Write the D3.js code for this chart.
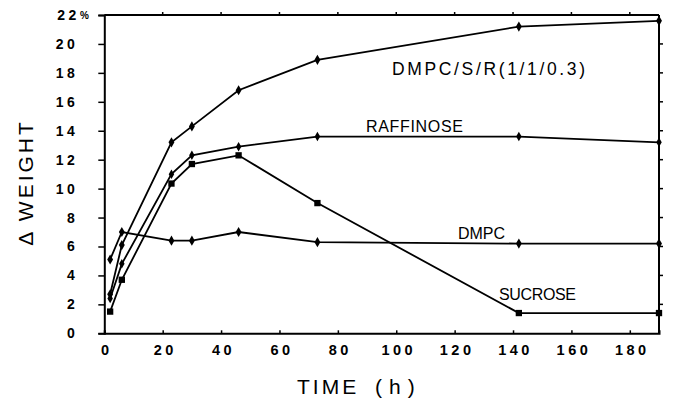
<!DOCTYPE html>
<html>
<head>
<meta charset="utf-8">
<script src="https://cdn.jsdelivr.net/npm/d3@7"></script>
<style>
  body { margin: 0; background: #fff; }
  text { font-family: "Liberation Sans", Arial, sans-serif; fill: #000; }
</style>
</head>
<body>
<script>
// hours after start
var hours = [2, 6, 23, 30, 46, 73, 142, 190];

// weight gain (%) per sample
var dmpcSR    = [2.7, 6.1, 13.2, 14.3, 16.8, 18.9, 21.2, 21.6];
var raffinose = [2.4, 4.8, 11.0, 12.3, 12.9, 13.6, 13.6, 13.2];
var dmpc      = [5.1, 7.0, 6.4, 6.4, 7.0, 6.3, 6.2, 6.2];
var sucrose   = [1.5, 3.7, 10.35, 11.7, 12.3, 9.0, 1.4, 1.4];

var seriesNames = ["DMPC/S/R(1/1/0.3)", "RAFFINOSE", "DMPC", "SUCROSE"];
var yTicks = [0, 2, 4, 6, 8, 10, 12, 14, 16, 18, 20, 22];
var xTicks = [0, 20, 40, 60, 80, 100, 120, 140, 160, 180];

var w = 674, h = 398;
var plotL = 104.3, plotR = 659, plotT = 15, plotB = 333.3;

var svg = d3.select("body").append("svg").attr("width", w).attr("height", h);

var x = d3.scaleLinear().domain([0, 190]).range([plotL, plotR]);
var y = d3.scaleLinear().domain([0, 22]).range([plotB, plotT]);

// frame lines
var frame = svg.append("g").attr("stroke", "#000").attr("stroke-width", 2).attr("fill", "none");
frame.append("line").attr("x1", plotL).attr("x2", plotR).attr("y1", plotT).attr("y2", plotT);
frame.append("line").attr("x1", plotR).attr("x2", plotR).attr("y1", plotT).attr("y2", plotB);

// small ticks on the top and right edges
frame.selectAll("line.tt").data(xTicks.slice(1)).enter().append("line")
  .attr("class", "tt")
  .attr("x1", function(d) { return x(d); }).attr("x2", function(d) { return x(d); })
  .attr("y1", plotT).attr("y2", plotT - 3).attr("stroke-width", 1.5);
frame.selectAll("line.rt").data(yTicks.slice(1, -1)).enter().append("line")
  .attr("class", "rt")
  .attr("x1", plotR).attr("x2", plotR + 4)
  .attr("y1", function(d) { return y(d); }).attr("y2", function(d) { return y(d); })
  .attr("stroke-width", 1.5);

// left axis
var yAxis = svg.append("g").attr("transform", "translate(" + plotL + ",0)")
  .call(d3.axisLeft(y).tickValues(yTicks).tickSize(6).tickPadding(20).tickFormat(d3.format("d")));
yAxis.select(".domain").attr("stroke-width", 2);
yAxis.selectAll(".tick line").attr("stroke-width", 1.5);
yAxis.selectAll(".tick text")
  .attr("font-size", 14).attr("font-weight", "bold").attr("letter-spacing", 3.5)
  .attr("font-family", "Liberation Sans, Arial, sans-serif");
yAxis.selectAll(".tick").filter(function(d) { return d === 22; }).select("text")
  .attr("text-anchor", "start").attr("x", -47)
  .append("tspan").attr("font-size", 10).attr("dy", -1).text("%");

// bottom axis
var xAxis = svg.append("g").attr("transform", "translate(0," + plotB + ")")
  .call(d3.axisBottom(x).tickValues(xTicks).tickSize(-3).tickPadding(11).tickFormat(d3.format("d")));
xAxis.select(".domain").attr("stroke-width", 2);
xAxis.selectAll(".tick line").attr("stroke-width", 1.5);
xAxis.selectAll(".tick text")
  .attr("font-size", 14.5).attr("font-weight", "bold").attr("letter-spacing", 3.5)
  .attr("dx", 2).attr("font-family", "Liberation Sans, Arial, sans-serif");

// axis titles
svg.append("text").attr("x", 297).attr("y", 394)
  .attr("font-size", 21).attr("letter-spacing", 3).text("TIME");
svg.append("text").attr("x", 375).attr("y", 394)
  .attr("font-size", 21).attr("letter-spacing", 7).text("(h)");
svg.append("text")
  .attr("transform", "translate(33," + 184 + ") rotate(-90)")
  .attr("text-anchor", "middle").attr("dx", 1.5)
  .attr("font-size", 21).attr("letter-spacing", 3).text("\u0394 WEIGHT");

// series
var series = [
  { name: seriesNames[0], values: dmpcSR, shape: d3.symbolDiamond, size: 30 },
  { name: seriesNames[1], values: raffinose, shape: d3.symbolDiamond, size: 26 },
  { name: seriesNames[2], values: dmpc, shape: d3.symbolDiamond, size: 30 },
  { name: seriesNames[3], values: sucrose, shape: d3.symbolSquare, size: 40 }
];

var line = d3.line()
  .x(function(d) { return x(d[0]); })
  .y(function(d) { return y(d[1]); });

series.forEach(function(s) {
  var pts = hours.map(function(t, i) { return [t, s.values[i]]; });
  svg.append("path").datum(pts)
    .attr("d", line).attr("fill", "none").attr("stroke", "#000").attr("stroke-width", 1.8);
  svg.selectAll(null).data(pts).enter().append("path")
    .attr("d", d3.symbol().type(s.shape).size(s.size))
    .attr("transform", function(d) { return "translate(" + x(d[0]) + "," + y(d[1]) + ")"; })
    .attr("fill", "#000");
});

// series labels: x, baseline y, width, font size
var labelPos = [[392, 75, 193, 17.5], [366, 132, 97, 16], [458, 238.5, 47, 16], [499, 300, 77, 16]];
svg.selectAll("text.lab").data(seriesNames).enter().append("text")
  .attr("class", "lab")
  .attr("x", function(d, i) { return labelPos[i][0]; })
  .attr("y", function(d, i) { return labelPos[i][1]; })
  .attr("textLength", function(d, i) { return labelPos[i][2]; })
  .attr("lengthAdjust", "spacing")
  .attr("font-size", function(d, i) { return labelPos[i][3]; })
  .text(function(d) { return d; });
</script>
</body>
</html>
